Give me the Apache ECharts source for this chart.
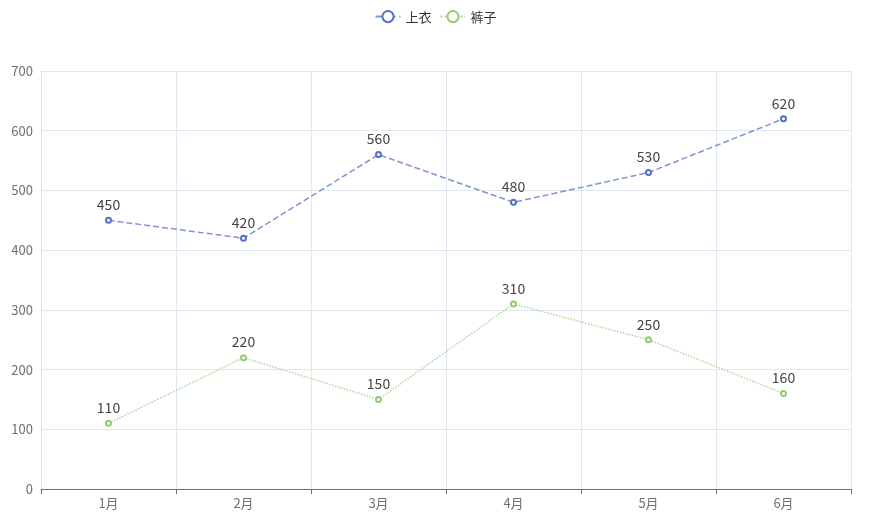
<!DOCTYPE html>
<html><head><meta charset="utf-8">
<script src="https://cdn.jsdelivr.net/npm/echarts@6/dist/echarts.min.js"></script>
<style>html,body{margin:0;padding:0}#c{width:871px;height:524px}</style>
</head><body><div id="c"></div>
<script>
const categories = ['1月','2月','3月','4月','5月','6月'];
const tops = [450,420,560,480,530,620];
const pants = [110,220,150,310,250,160];
const chart = echarts.init(document.getElementById('c'));
chart.setOption({
  color: ['#5470c6','#91cc75'],
  textStyle: {fontFamily: 'Noto Sans CJK SC'},
  legend: {top: 5, data: ['上衣','裤子'], textStyle: {fontSize: 13, color: '#333'}},
  grid: {left: 41, right: 20, top: 71, bottom: 35},
  xAxis: {type: 'category', data: categories,
    axisLine: {lineStyle: {color: '#6e7079'}}, axisTick: {show: true},
    axisLabel: {fontSize: 13, color: '#6e7079'},
    splitLine: {show: true, lineStyle: {color: '#e0e6f1'}}},
  yAxis: {type: 'value', min: 0, max: 700, interval: 100,
    axisLine: {show: true, lineStyle: {color: '#e0e6f1'}},
    axisLabel: {fontSize: 13, color: '#6e7079'},
    splitLine: {lineStyle: {color: '#e0e6f1'}}},
  series: [
    {name: '上衣', type: 'line', data: tops, symbolSize: 5, label: {show: true, position: 'top', fontSize: 14, color: '#444'},
     lineStyle: {type: 'dashed', width: 1.5, opacity: 0.75}},
    {name: '裤子', type: 'line', data: pants, symbolSize: 5, label: {show: true, position: 'top', fontSize: 14, color: '#444'},
     lineStyle: {type: 'dotted', width: 1.5, opacity: 0.75}}
  ]
});
</script></body></html>
